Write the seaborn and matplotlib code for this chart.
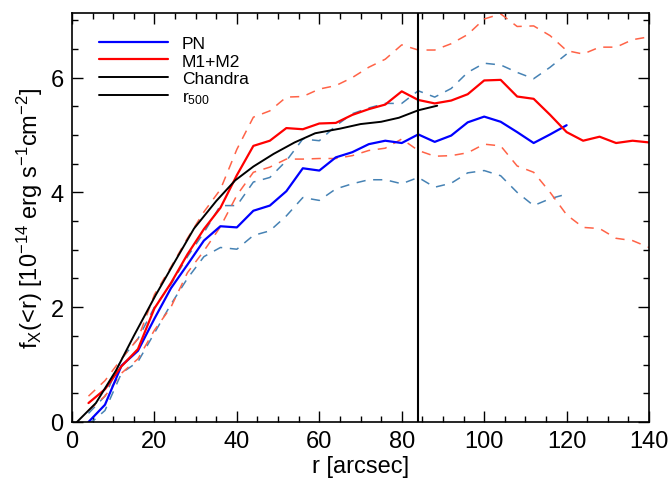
import numpy as np
import pandas as pd
import seaborn as sns
import matplotlib
matplotlib.use("Agg")
import matplotlib.pyplot as plt
from matplotlib.lines import Line2D

# ---- data ----
r_pn = [4, 8, 12, 16, 20, 24, 28, 32, 36, 40, 44, 48, 52, 56, 60, 64, 68, 72, 76, 80,
        84, 88, 92, 96, 100, 104, 108, 112, 116, 120]
pn = [0.00, 0.30, 0.98, 1.24, 1.80, 2.33, 2.74, 3.16, 3.41, 3.39, 3.68, 3.77, 4.02, 4.42,
      4.38, 4.61, 4.70, 4.84, 4.90, 4.86, 5.01, 4.88, 4.99, 5.22, 5.32, 5.23, 5.05, 4.86,
      5.01, 5.17]
pn_hi = [0.15, 0.45, 1.10, 1.45, 2.00, 2.40, 2.88, 3.30, 3.77, 3.77, 4.18, 4.26, 4.55, 4.93,
         4.90, 5.16, 5.37, 5.47, 5.55, 5.55, 5.77, 5.66, 5.81, 6.09, 6.25, 6.22, 6.09, 5.98,
         6.18, 6.41]
pn_lo = [-0.05, 0.20, 0.85, 1.05, 1.55, 2.05, 2.50, 2.88, 3.04, 3.01, 3.25, 3.33, 3.59, 3.91,
         3.86, 4.06, 4.15, 4.22, 4.22, 4.15, 4.26, 4.09, 4.16, 4.34, 4.38, 4.29, 4.00, 3.77,
         3.89, 3.97]

r_mos = [4, 8, 12, 16, 20, 24, 28, 32, 36, 40, 44, 48, 52, 56, 60, 64, 68, 72, 76, 80,
         84, 88, 92, 96, 100, 104, 108, 112, 116, 120, 124, 128, 132, 136, 140]
mos = [0.33, 0.57, 0.97, 1.27, 1.98, 2.42, 2.92, 3.36, 3.73, 4.30, 4.81, 4.90, 5.12, 5.10,
       5.20, 5.21, 5.35, 5.45, 5.53, 5.76, 5.61, 5.55, 5.60, 5.71, 5.95, 5.96, 5.67, 5.63,
       5.35, 5.05, 4.90, 4.97, 4.86, 4.90, 4.87]
mos_hi = [0.45, 0.72, 1.10, 1.45, 2.22, 2.70, 3.20, 3.66, 4.05, 4.75, 5.31, 5.42, 5.66, 5.67,
          5.80, 5.86, 6.00, 6.18, 6.32, 6.57, 6.48, 6.48, 6.59, 6.75, 7.02, 7.11, 6.89, 6.90,
          6.73, 6.47, 6.41, 6.53, 6.53, 6.66, 6.71]
mos_lo = [0.20, 0.45, 0.85, 1.10, 1.60, 2.00, 2.60, 2.98, 3.40, 3.95, 4.35, 4.44, 4.58, 4.58,
          4.59, 4.59, 4.64, 4.73, 4.77, 4.93, 4.73, 4.63, 4.64, 4.69, 4.84, 4.81, 4.46, 4.35,
          4.00, 3.61, 3.39, 3.37, 3.20, 3.16, 3.04]

r_chandra = [1.2, 5.8, 10.7, 15, 20.3, 25, 29.6, 35, 39.6, 44, 48.9, 54, 59, 65, 70, 75,
             79.3, 84, 88.6]
chandra = [0.00, 0.33, 0.90, 1.50, 2.21, 2.80, 3.37, 3.85, 4.21, 4.45, 4.67, 4.87, 5.03,
           5.11, 5.19, 5.23, 5.30, 5.43, 5.51]

r500 = 84.0

# ---- style ----
sns.set_theme(style="ticks")
plt.rcParams["font.family"] = ["Liberation Sans", "DejaVu Sans"]
plt.rcParams["mathtext.default"] = "regular"
for key in ["text.color", "axes.labelcolor", "xtick.color", "ytick.color", "axes.edgecolor"]:
    plt.rcParams[key] = "black"

fig = plt.figure(figsize=(6.71, 4.81), dpi=100)
ax = fig.add_axes([0.1073, 0.1206, 0.8600, 0.8497])

blue_d = "#4682B4"
red_d = "#FF6347"
dash = (6, 5)

sns.lineplot(x=r_pn, y=pn_hi, ax=ax, color=blue_d, lw=1.1, estimator=None, sort=False)
sns.lineplot(x=r_pn, y=pn_lo, ax=ax, color=blue_d, lw=1.1, estimator=None, sort=False)
sns.lineplot(x=r_mos, y=mos_hi, ax=ax, color=red_d, lw=1.1, estimator=None, sort=False)
sns.lineplot(x=r_mos, y=mos_lo, ax=ax, color=red_d, lw=1.1, estimator=None, sort=False)
for ln in ax.lines:
    ln.set_dashes(dash)

sns.lineplot(x=r_pn, y=pn, ax=ax, color="#0000FF", lw=1.6, estimator=None, sort=False)
sns.lineplot(x=r_mos, y=mos, ax=ax, color="#FF0000", lw=1.6, estimator=None, sort=False)
sns.lineplot(x=r_chandra, y=chandra, ax=ax, color="black", lw=1.4, estimator=None, sort=False)
ax.axvline(r500, color="black", lw=1.5)

ax.set_xlim(0, 140)
ax.set_ylim(0, 7.12)
ax.set_xticks([0, 20, 40, 60, 80, 100, 120, 140])
ax.set_xticks(np.arange(0, 141, 5), minor=True)
ax.set_yticks([0, 2, 4, 6])
ax.set_yticks(np.arange(0, 7.1, 0.5), minor=True)
ax.tick_params(which="both", direction="in", top=True, right=True, width=1.0, color="black",
               labelcolor="black", labelsize=17, pad=6)
ax.tick_params(which="major", length=8)
ax.tick_params(which="minor", length=4.3)
for s in ax.spines.values():
    s.set_linewidth(1.2)
    s.set_color("black")

ax.set_xlabel("r [arcsec]", fontsize=17, labelpad=2, color="black")
ax.set_ylabel("f$_X$(<r) [10$^{-14}$ erg s$^{-1}$cm$^{-2}$]", fontsize=17, labelpad=4,
              color="black")

handles = [Line2D([], [], color="#0000FF", lw=1.6),
           Line2D([], [], color="#FF0000", lw=1.6),
           Line2D([], [], color="black", lw=1.4),
           Line2D([], [], color="black", lw=1.4)]
labels = ["PN", "M1+M2", "Chandra", "r$_{500}$"]
leg = ax.legend(handles, labels, loc="upper left", bbox_to_anchor=(0.025, 0.975), frameon=False,
                fontsize=12.5, handlelength=4.0, handletextpad=0.8, labelspacing=0.15,
                borderaxespad=0.3)
for t in leg.get_texts():
    t.set_color("black")

fig.savefig("out.png", dpi=100)
